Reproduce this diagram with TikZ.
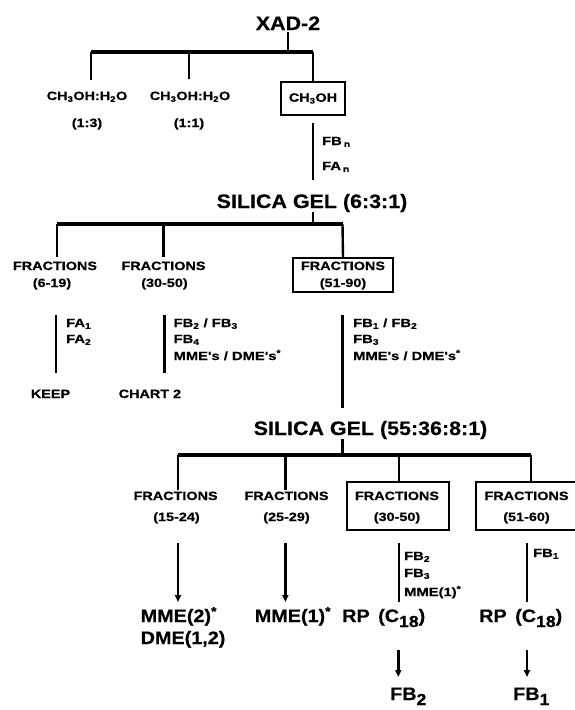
\documentclass[tikz,border=0pt]{standalone}
\usepackage{fontspec}
\setmainfont{Liberation Sans}
\newfontfamily\smf{Liberation Sans}[FakeStretch=1.2,FakeBold=0.6]
\newfontfamily\lbf{Liberation Sans}[FakeStretch=1.25,FakeBold=0.6]
\newfontfamily\bgf{Liberation Sans}[FakeStretch=1.1,FakeBold=0.4]
\usetikzlibrary{arrows.meta}
\newcommand{\bigsub}[1]{\raisebox{-5pt}{\fontsize{16}{16}\selectfont #1}}
\begin{document}
\begin{tikzpicture}[x=1pt,y=-1pt,
  big/.style={font=\bgf\bfseries\fontsize{19.5}{22}\selectfont, inner sep=0pt, anchor=base},
  med/.style={font=\bgf\bfseries\fontsize{18}{20}\selectfont, inner sep=0pt, anchor=base west},
  sm/.style={font=\smf\bfseries\fontsize{12}{14}\selectfont, inner sep=0pt, anchor=base},
  lab/.style={font=\lbf\bfseries\fontsize{11.8}{14}\selectfont, inner sep=0pt, anchor=base west},
  frame/.style={draw, line width=2.2pt, inner sep=0pt},
  bar/.style={line width=3.2pt},
  stem/.style={line width=2.4pt},
  arr/.style={stem, -{Triangle[length=7pt,width=6pt]}}]
\useasboundingbox (0,0) rectangle (574,710);

% ---------- level 1 ----------
\node[big] (xad) at (288,30) {XAD-2};
\coordinate (j0) at (288,52);
\coordinate (j1) at (91,52);
\coordinate (j2) at (189,52);
\coordinate (j3) at (313,52);
\coordinate (e1) at (91,80);
\coordinate (e2) at (189,79);
\node[sm] (m1) at (87,100) {CH\textsubscript{3}OH:H\textsubscript{2}O};
\node[sm] (r1) at (87,127) {(1:3)};
\node[sm] (m2) at (190,100) {CH\textsubscript{3}OH:H\textsubscript{2}O};
\node[sm] (r2) at (189,127) {(1:1)};
\node[frame, minimum width=64, minimum height=33, font=\smf\bfseries\fontsize{12}{14}\selectfont] (ch) at (313,98.5) {CH\textsubscript{3}OH};
\draw[stem, shorten <=2pt] (xad.south) -- (j0);
\draw[bar] (j1) -- (j3);
\draw[stem] (j1) -- (e1);
\draw[stem] (j2) -- (e2);
\draw[stem] (j3) -- (ch.north);

\coordinate (k1) at (313,123);
\coordinate (k2) at (313,180);
\draw[stem] (k1) -- (k2);
\node[lab] (fbn) at (322,145) {FB\,\textsubscript{n}};
\node[lab] (fan) at (322,170) {FA\,\textsubscript{n}};

% ---------- level 2 ----------
\node[big] (sg1) at (312,208) {SILICA GEL (6:3:1)};
\coordinate (l0) at (313,224);
\coordinate (l1) at (57,224);
\coordinate (l2) at (163.5,224);
\coordinate (l3) at (342.5,224);
\draw[stem] (sg1.south -| l0) -- (l0);
\draw[bar] (l1) -- (l3);
\coordinate (t1) at (57,257);
\coordinate (t2) at (163.5,257);
\draw[stem] (l1) -- (t1);
\draw[stem] (l2) -- (t2);

\node[sm] (f1a) at (55,270) {FRACTIONS};
\node[sm] (f1b) at (52,287) {(6-19)};
\node[sm] (f2a) at (163.5,270) {FRACTIONS};
\node[sm] (f2b) at (164.5,287) {(30-50)};
\node[frame, minimum width=100, minimum height=34] (f3) at (343,275) {};
\node[sm] (f3a) at (343,270) {FRACTIONS};
\node[sm] (f3b) at (343,287) {(51-90)};
\draw[stem] (l3) -- (f3.north);

\coordinate (u1) at (56,315);   \coordinate (v1) at (56,373);
\coordinate (u2) at (164.6,315);\coordinate (v2) at (164.6,373);
\coordinate (u3) at (342.5,315);\coordinate (v3) at (342.5,408);
\draw[stem] (u1) -- (v1);
\draw[stem] (u2) -- (v2);
\draw[stem] (u3) -- (v3);

\node[lab] (fa1) at (66,327) {FA\textsubscript{1}};
\node[lab] (fa2) at (66,343) {FA\textsubscript{2}};
\node[lab] (b2a) at (173.4,327) {FB\textsubscript{2} / FB\textsubscript{3}};
\node[lab] (b2b) at (173.4,343) {FB\textsubscript{4}};
\node[lab] (b2c) at (173.4,360) {MME's / DME's\textsuperscript{*}};
\node[lab] (b3a) at (353,327) {FB\textsubscript{1} / FB\textsubscript{2}};
\node[lab] (b3b) at (353,343) {FB\textsubscript{3}};
\node[lab] (b3c) at (353,360) {MME's / DME's\textsuperscript{*}};

\node[sm] (keep) at (50.5,398) {KEEP};
\node[sm, anchor=base west] (chart) at (118.5,398) {CHART 2};

% ---------- level 3 ----------
\node[big] (sg2) at (370.5,435) {SILICA GEL (55:36:8:1)};
\coordinate (n0) at (342.5,455);
\coordinate (n1) at (178,455);
\coordinate (n2) at (285.4,455);
\coordinate (n3) at (398.8,455);
\coordinate (n4) at (531,455);
\draw[stem] (sg2.south -| n0) -- (n0);
\draw[bar] (n1) -- (n4);
\coordinate (w1) at (178,490);
\coordinate (w2) at (285.4,490);
\draw[stem] (n1) -- (w1);
\draw[stem] (n2) -- (w2);

\node[sm] (g1a) at (175.6,500) {FRACTIONS};
\node[sm] (g1b) at (176.5,521) {(15-24)};
\node[sm] (g2a) at (286.5,500) {FRACTIONS};
\node[sm] (g2b) at (286.5,521) {(25-29)};
\node[frame, minimum width=102, minimum height=48] (g3) at (398,506) {};
\node[sm] (g3a) at (397,500) {FRACTIONS};
\node[sm] (g3b) at (397,521) {(30-50)};
\node[frame, minimum width=102, minimum height=48] (g4) at (527,506) {};
\node[sm] (g4a) at (526.5,500) {FRACTIONS};
\node[sm] (g4b) at (526.5,521) {(51-60)};
\draw[stem] (n3) -- (n3 |- g3.north);
\draw[stem] (n4) -- (n4 |- g4.north);

\coordinate (p1) at (178,543);   \coordinate (q1) at (178,602);
\coordinate (p2) at (285.4,543); \coordinate (q2) at (285.4,602);
\coordinate (p3) at (398.8,543); \coordinate (q3) at (398.8,602);
\coordinate (p4) at (527,543);   \coordinate (q4) at (527,602);
\draw[arr] (p1) -- (q1);
\draw[arr] (p2) -- (q2);
\draw[stem] (p3) -- (q3);
\draw[stem] (p4) -- (q4);

\node[lab] (c3a) at (404,560) {FB\textsubscript{2}};
\node[lab] (c3b) at (404,577) {FB\textsubscript{3}};
\node[lab] (c3c) at (404,596) {MME(1)\textsuperscript{*}};
\node[lab] (c4a) at (533,557) {FB\textsubscript{1}};

\node[med] (mme2) at (140.5,622) {MME(2)\textsuperscript{*}};
\node[med] (dme) at (140.5,644) {DME(1,2)};
\node[med] (mme1) at (254.6,622) {MME(1)\textsuperscript{*}};
\node[med] (rp1) at (342,622) {RP\ \,(C\bigsub{18})};
\node[med] (rp2) at (479,622) {RP\ \,(C\bigsub{18})};

\coordinate (a3) at (398.3,650); \coordinate (z3) at (398.3,677);
\coordinate (a4) at (527,650);   \coordinate (z4) at (527,677);
\draw[arr] (a3) -- (z3);
\draw[arr] (a4) -- (z4);

\node[med] (fb2) at (390,700) {FB\bigsub{2}};
\node[med] (fb1) at (513,700) {FB\bigsub{1}};
\end{tikzpicture}
\end{document}
